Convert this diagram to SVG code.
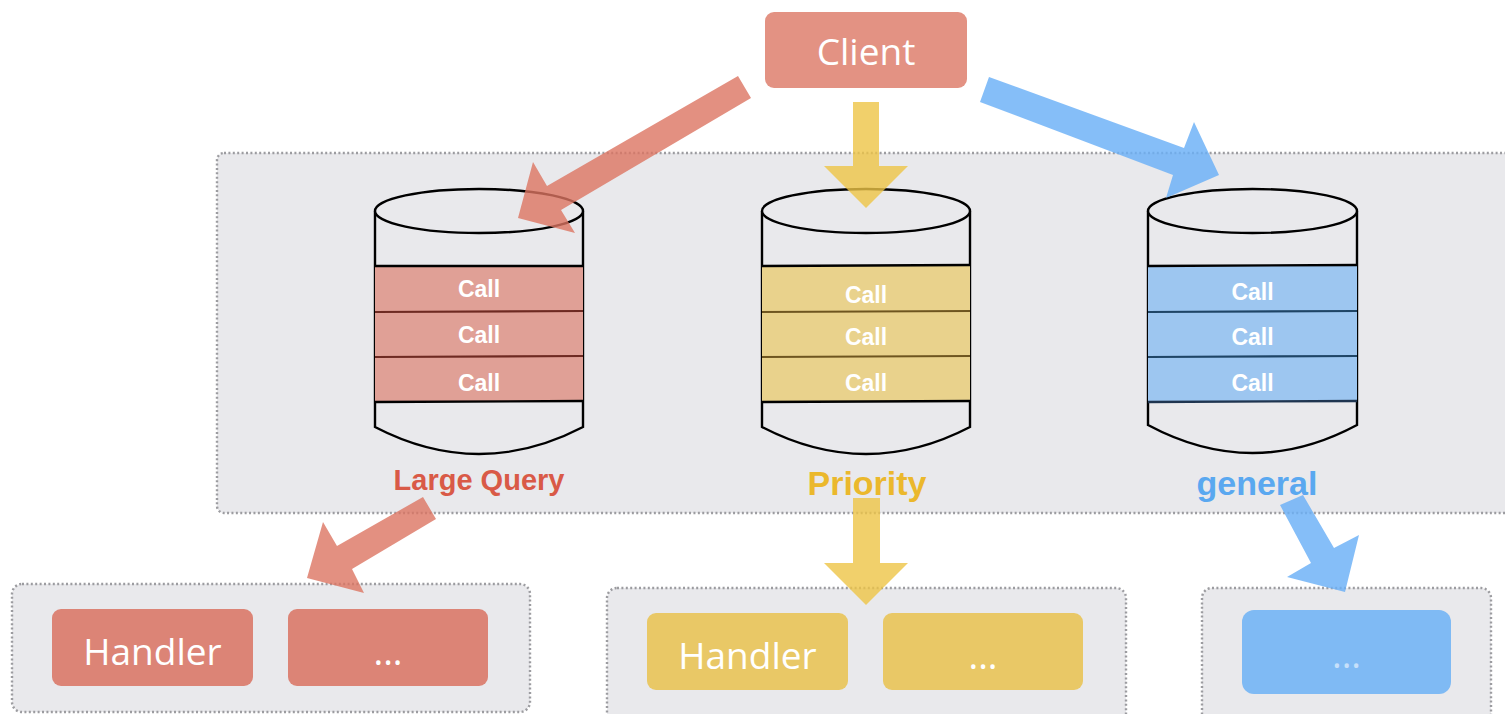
<svg xmlns="http://www.w3.org/2000/svg" width="1505" height="714" viewBox="0 0 1505 714">
<style>
.panel{fill:#e9e9ec;stroke:#9c9ca0;stroke-width:2.4;stroke-dasharray:2 2.4}
.cyl{fill:#e9e9ec;stroke:#000;stroke-width:2.4}
.calltxt{font-family:"Liberation Sans",Arial,sans-serif;font-weight:bold;font-size:23px;fill:#fff;text-anchor:middle}
.lbl{font-family:"Liberation Sans",Arial,sans-serif;font-weight:bold;text-anchor:middle}
.box{font-family:"Open Sans","Noto Sans",sans-serif;font-size:37px;fill:#fff;text-anchor:middle}
.rA{fill:#dc7462;opacity:0.8}
.yA{fill:#edc446;opacity:0.8}
.bA{fill:#6ab0f7;opacity:0.82}
</style>

<g id="queue-panel">
  <rect class="panel" x="217" y="153" width="1300" height="360" rx="7"/>
</g>

<g id="handlers-large">
  <rect class="panel" x="12" y="584" width="518" height="128" rx="10"/>
  <g id="handler-red-1">
    <rect x="52" y="609" width="201" height="77" rx="9" fill="#dc8476"/>
    <text class="box" x="152.5" y="665">Handler</text>
  </g>
  <g id="handler-red-2">
    <rect x="288" y="609" width="200" height="77" rx="9" fill="#dc8476"/>
    <text class="box" x="388" y="665">...</text>
  </g>
</g>

<g id="handlers-priority">
  <rect class="panel" x="607" y="588" width="519" height="140" rx="10"/>
  <g id="handler-yellow-1">
    <rect x="647" y="613" width="201" height="77" rx="9" fill="#e9c866"/>
    <text class="box" x="747.5" y="669">Handler</text>
  </g>
  <g id="handler-yellow-2">
    <rect x="883" y="613" width="200" height="77" rx="9" fill="#e9c866"/>
    <text class="box" x="983" y="669">...</text>
  </g>
</g>

<g id="handlers-general">
  <rect class="panel" x="1202" y="588" width="289" height="140" rx="10"/>
  <g id="handler-blue-1">
    <rect x="1242" y="610" width="209" height="84" rx="12" fill="#7fbaf4"/>
    <text class="box" x="1346.5" y="668" style="fill:#c6e0fa">...</text>
  </g>
</g>

<g id="queue-large">
  <path class="cyl" d="M375,211 L375,427 Q479,481 583,427 L583,211"/>
  <rect x="375" y="266" width="208" height="136" fill="#e0a096"/>
  <line x1="375" y1="266" x2="583" y2="266" stroke="#000" stroke-width="2.4"/>
  <line x1="375" y1="312" x2="583" y2="311" stroke="#6e2a22" stroke-width="2.2"/>
  <line x1="375" y1="357" x2="583" y2="356" stroke="#6e2a22" stroke-width="2.2"/>
  <line x1="375" y1="402" x2="583" y2="401" stroke="#000" stroke-width="2.4"/>
  <ellipse class="cyl" cx="479" cy="211" rx="104" ry="22"/>
  <text class="calltxt" x="479" y="297">Call</text>
  <text class="calltxt" x="479" y="343">Call</text>
  <text class="calltxt" x="479" y="391">Call</text>
  <text class="lbl" x="479" y="490" font-size="29" fill="#d95a47">Large Query</text>
</g>

<g id="queue-priority">
  <path class="cyl" d="M762,211 L762,427 Q866,481 970,427 L970,211"/>
  <rect x="762" y="266" width="208" height="136" fill="#e9d28c"/>
  <line x1="762" y1="266" x2="970" y2="265" stroke="#000" stroke-width="2.4"/>
  <line x1="762" y1="312" x2="970" y2="311" stroke="#6e5520" stroke-width="2.2"/>
  <line x1="762" y1="357" x2="970" y2="356" stroke="#6e5520" stroke-width="2.2"/>
  <line x1="762" y1="402" x2="970" y2="401" stroke="#000" stroke-width="2.4"/>
  <ellipse class="cyl" cx="866" cy="211" rx="104" ry="22"/>
  <text class="calltxt" x="866" y="303">Call</text>
  <text class="calltxt" x="866" y="345">Call</text>
  <text class="calltxt" x="866" y="391">Call</text>
  <text class="lbl" x="867" y="495" font-size="34" fill="#ebb82c">Priority</text>
</g>

<g id="queue-general">
  <path class="cyl" d="M1148,211 L1148,425 Q1252.5,481 1357,425 L1357,211"/>
  <rect x="1148" y="266" width="209" height="136" fill="#9dc6f0"/>
  <line x1="1148" y1="266" x2="1357" y2="265" stroke="#000" stroke-width="2.4"/>
  <line x1="1148" y1="312" x2="1357" y2="311" stroke="#1f4566" stroke-width="2.2"/>
  <line x1="1148" y1="357" x2="1357" y2="356" stroke="#1f4566" stroke-width="2.2"/>
  <line x1="1148" y1="402" x2="1357" y2="401" stroke="#1f3550" stroke-width="2.4"/>
  <ellipse class="cyl" cx="1252.5" cy="211" rx="104.5" ry="22"/>
  <text class="calltxt" x="1252.5" y="300">Call</text>
  <text class="calltxt" x="1252.5" y="345">Call</text>
  <text class="calltxt" x="1252.5" y="391">Call</text>
  <text class="lbl" x="1257" y="495" font-size="34" fill="#5aa8f0">general</text>
</g>

<g id="client">
  <rect x="765" y="12" width="202" height="76" rx="9" fill="#e39283"/>
  <text class="box" x="866" y="65">Client</text>
</g>

<g id="connectors">
  <polygon class="rA" points="738,76 547,186 533,162 518,218 575,233 561,210 751,98"/>
  <polygon class="yA" points="853,102 879,102 879,166 908,166 866,208 824,166 853,166"/>
  <polygon class="bA" points="989,77 1184,148 1194,122 1219,175 1166,198 1173,175 980,102"/>
  <polygon class="rA" points="423,497 337,546 323,522 307,578 364,593 352,569 436,519"/>
  <polygon class="yA" points="853,498 880,498 880,563 908,563 866,605 824,563 853,563"/>
  <polygon class="bA" points="1280,505 1303,495 1334,548 1359,535 1345,592 1287,577 1311,563"/>
</g>
</svg>
